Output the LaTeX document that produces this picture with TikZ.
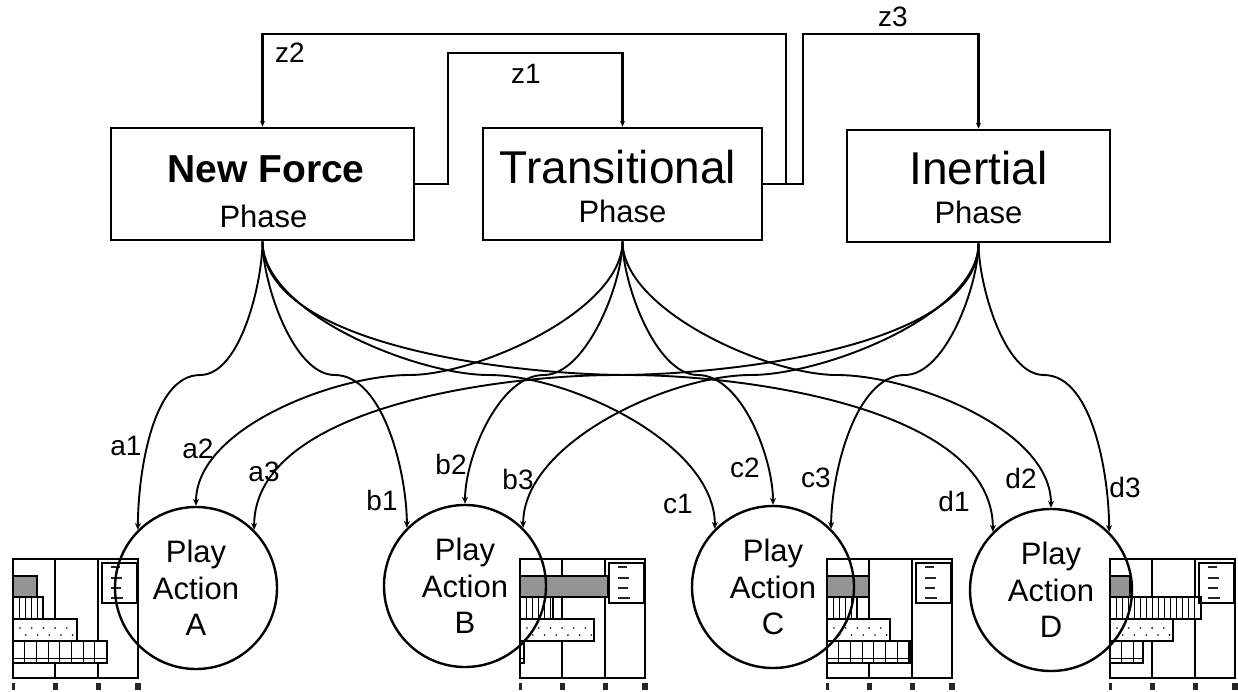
\documentclass[tikz,border=0pt]{standalone}
\usepackage{fontspec}
\setmainfont{Liberation Sans}
\usetikzlibrary{arrows.meta,calc}

\definecolor{barGray}{RGB}{148,148,148}

\tikzset{
  phasebox/.style={draw, line width=2.6pt, inner sep=0pt},
  zlink/.style={line width=2.3pt, -{Stealth[length=6pt,width=5pt]}},
  flowlink/.style={line width=1.9pt, -{Stealth[length=7pt,width=6pt]}},
  playnode/.style={draw, circle, line width=2.4pt, minimum size=162pt,
    inner sep=0pt, align=center, font=\fontsize{31}{36.5}\selectfont},
  tag/.style={inner sep=0pt, font=\fontsize{28}{30}\selectfont},
  chartline/.style={line width=1.2pt},
  hatch/.style={line width=0.9pt},
}

% small bar chart: left edge, widths of the gray, hatched, dotted and grid bars
\newcommand\barchart[5]{%
\begin{scope}[shift={(#1,0)}]
  \draw[chartline, fill=white] (0,-559) rectangle (125,-678);
  \draw[chartline] (42,-559) -- (42,-678) (85,-559) -- (85,-678);
  \draw[chartline, fill=barGray] (0,-576) rectangle (#2,-597);
  \draw[chartline, fill=white] (0,-597) rectangle (#3,-619);
  \begin{scope}
    \clip (0,-597) rectangle (#3,-619);
    \foreach \hx in {6,12,...,120} \draw[hatch] (\hx,-597) -- (\hx,-619);
  \end{scope}
  \draw[chartline, fill=white] (0,-619) rectangle (#4,-641);
  \begin{scope}
    \clip (0,-619) rectangle (#4,-641);
    \foreach \hx in {7,18.7,...,120} \fill (\hx,-628) circle (0.9);
    \foreach \hx in {12.8,24.5,...,120} \fill (\hx,-635) circle (0.9);
  \end{scope}
  \draw[chartline, fill=white] (0,-641) rectangle (#5,-663);
  \begin{scope}
    \clip (0,-641) rectangle (#5,-663);
    \foreach \hx in {11.7,23.4,...,120} \draw[hatch] (\hx,-641) -- (\hx,-663);
    \draw[hatch] (0,-658) -- (#5,-658);
  \end{scope}
  % legend
  \draw[chartline] (89,-563) rectangle (124,-603);
  \foreach \ly/\lw in {567/9,578/11,588/10,598/12}
    \fill[black!85] (98,-\ly+1.3) rectangle (98+\lw,-\ly-1.3);
  % axis ticks
  \foreach \tx/\tw in {0/3,42/5,85/5,125/6}
    \fill[black!85] (\tx-\tw/2,-683) rectangle (\tx+\tw/2,-690);
\end{scope}}

% curved influence link: source, target, entry/exit angles at the waist line
\newcommand\flowlinkdraw[4]{%
  \draw[flowlink] let \p1=($(#1)!.5!(#2)$), \p2=(waist) in
    (#1) to[out=-90,in=#3,looseness=0.7] (\x1,\y2)
    to[out=#4,in=90,out looseness=0.75,in looseness=0.8] (#2);}

\begin{document}
\begin{tikzpicture}[x=1pt,y=1pt]
\useasboundingbox (0,0) rectangle (1238,-691);
\fill[white] (0,0) rectangle (1238,-691);

% charts beside the play actions
\barchart{13}{24}{30}{64}{94}
\barchart{520}{88}{33}{74}{4}
\barchart{827}{42}{30}{63}{83}
\barchart{1110}{20}{91}{63}{33}

% phases
\node[phasebox, minimum width=303pt, minimum height=112pt] (nf) at (262.5,-184) {};
\node[phasebox, minimum width=279pt, minimum height=112pt] (tr) at (622.5,-184) {};
\node[phasebox, minimum width=263pt, minimum height=112pt] (in) at (978.5,-186) {};

\node[anchor=base, inner sep=0pt, font=\fontsize{39}{44}\selectfont\bfseries] (nf-name) at (266,-182) {New Force};
\node[anchor=base, inner sep=0pt, font=\fontsize{31}{36}\selectfont] (nf-phase) at (263.5,-227) {Phase};
\node[anchor=base, inner sep=0pt, font=\fontsize{46}{50}\selectfont] (tr-name) at (618,-183) {Transitional};
\node[anchor=base, inner sep=0pt, font=\fontsize{31}{36}\selectfont] (tr-phase) at (622.5,-222) {Phase};
\node[anchor=base, inner sep=0pt, font=\fontsize{46}{50}\selectfont] (in-name) at (978.5,-184) {Inertial};
\node[anchor=base, inner sep=0pt, font=\fontsize{31}{36}\selectfont] (in-phase) at (978.5,-223) {Phase};

% play actions
\node[playnode] (A) at (196,-588) {Play\\Action\\A};
\node[playnode] (B) at (465,-586) {Play\\Action\\B};
\node[playnode] (C) at (773,-587) {Play\\Action\\C};
\node[playnode] (D) at (1051,-590) {Play\\Action\\D};

% feedback between phases
\coordinate (zt1) at (448,-53);
\coordinate (zt2) at (786,-34);
\coordinate (zt3) at (803,-34);
\draw[zlink] (nf.east) -| (zt1) -| (tr.north);
\draw[zlink] (tr.east) -| (zt2) -| (nf.north);
\draw[zlink] (tr.east) -| (zt3) -| (in.north);
\node[tag] (z1) at (526,-74) {z1};
\node[tag] (z2) at (290,-53) {z2};
\node[tag] (z3) at (893,-17) {z3};

% links from phases to play actions
\coordinate (waist) at (0,-375);
\flowlinkdraw{nf.south}{A.135}{0}{180}
\flowlinkdraw{tr.south}{A.90}{0}{180}
\flowlinkdraw{in.south}{A.45}{0}{180}
\flowlinkdraw{nf.south}{B.135}{180}{0}
\flowlinkdraw{tr.south}{B.90}{0}{180}
\flowlinkdraw{in.south}{B.45}{0}{180}
\flowlinkdraw{nf.south}{C.135}{180}{0}
\flowlinkdraw{tr.south}{C.90}{180}{0}
\flowlinkdraw{in.south}{C.45}{0}{180}
\flowlinkdraw{nf.south}{D.135}{180}{0}
\flowlinkdraw{tr.south}{D.90}{180}{0}
\flowlinkdraw{in.south}{D.45}{180}{0}

\node[tag] (la1) at (126,-446) {a1};
\node[tag] (la2) at (198,-449) {a2};
\node[tag] (la3) at (264,-472) {a3};
\node[tag] (lb1) at (382,-500) {b1};
\node[tag] (lb2) at (451,-464) {b2};
\node[tag] (lb3) at (518,-479) {b3};
\node[tag] (lc1) at (678,-504) {c1};
\node[tag] (lc2) at (745,-468) {c2};
\node[tag] (lc3) at (816,-478) {c3};
\node[tag] (ld1) at (954,-501) {d1};
\node[tag] (ld2) at (1021,-478) {d2};
\node[tag] (ld3) at (1125,-487) {d3};
\end{tikzpicture}
\end{document}
